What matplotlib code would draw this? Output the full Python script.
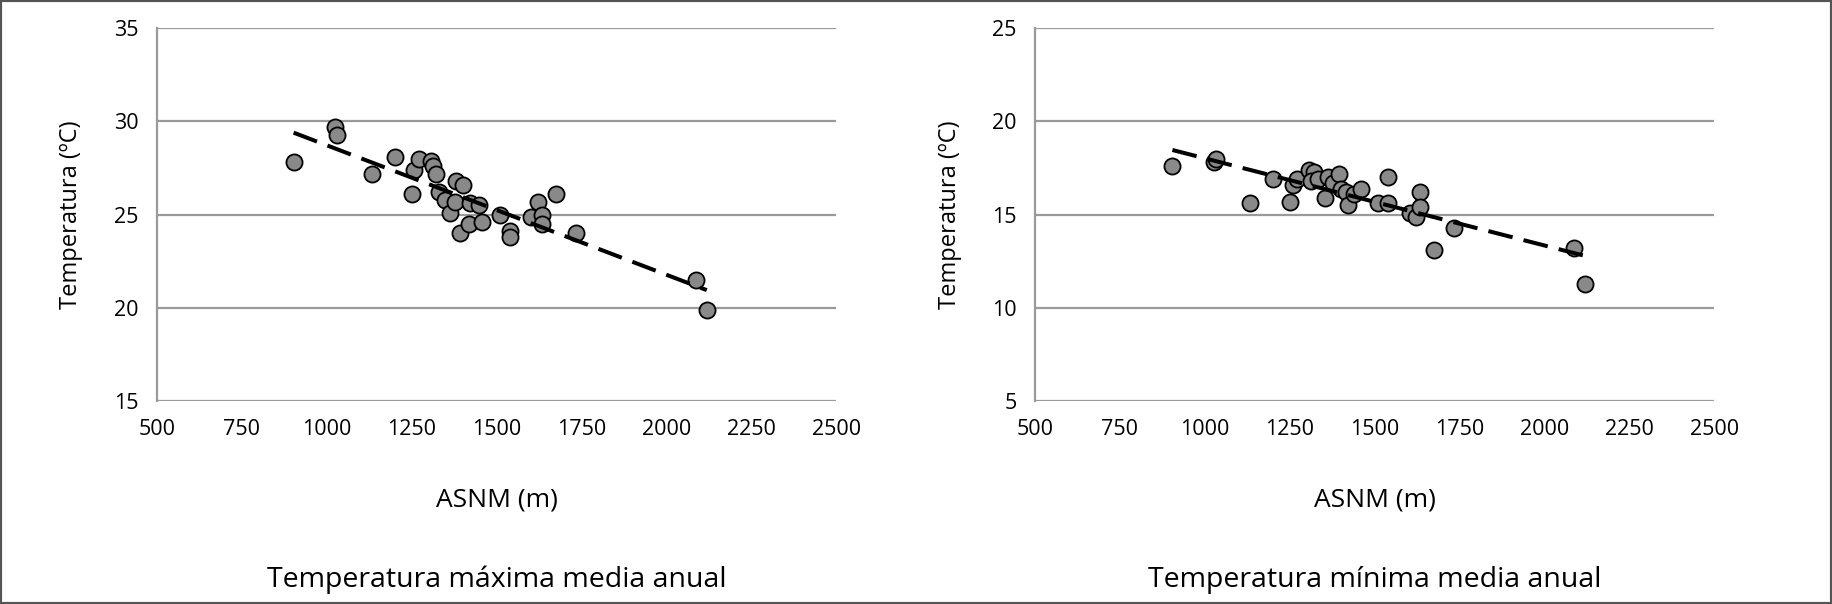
import numpy as np
import matplotlib
matplotlib.use("Agg")
import matplotlib.pyplot as plt
from matplotlib.patches import Rectangle

plt.rcParams['font.family'] = ['Open Sans', 'DejaVu Sans']

# Left panel: maximum temperature
alt_max = [903, 1025, 1031, 1134, 1201, 1250, 1258, 1272, 1307, 1312, 1321, 1332,
           1349, 1364, 1381, 1401, 1379, 1392, 1421, 1418, 1449, 1457, 1511, 1539,
           1539, 1601, 1622, 1635, 1635, 1675, 1735, 2088, 2119]
tmax = [27.8, 29.7, 29.3, 27.2, 28.1, 26.1, 27.4, 28.0, 27.9, 27.6, 27.2, 26.2,
        25.8, 25.1, 26.8, 26.6, 25.7, 24.0, 25.6, 24.5, 25.5, 24.6, 25.0, 24.1,
        23.8, 24.9, 25.7, 25.0, 24.5, 26.1, 24.0, 21.5, 19.9]

# Right panel: minimum temperature
alt_min = [905, 1026, 1032, 1133, 1202, 1250, 1259, 1273, 1307, 1322, 1312, 1333,
           1353, 1363, 1377, 1394, 1402, 1416, 1422, 1440, 1459, 1511, 1541, 1541,
           1603, 1621, 1634, 1634, 1675, 1735, 2088, 2119]
tmin = [17.6, 17.8, 18.0, 15.6, 16.9, 15.7, 16.6, 16.9, 17.4, 17.3, 16.8, 16.9,
        15.9, 17.0, 16.7, 17.2, 16.4, 16.2, 15.5, 16.1, 16.4, 15.6, 17.0, 15.6,
        15.1, 14.9, 16.2, 15.4, 13.1, 14.3, 13.2, 11.3]

# Trend lines (endpoints: altitude, temperature)
trend_max_x = [903, 2119]
trend_max_y = [29.4, 20.95]
trend_min_x = [905, 2121]
trend_min_y = [18.47, 12.78]

xticks = [500, 750, 1000, 1250, 1500, 1750, 2000, 2250, 2500]
yticks_max = [15, 20, 25, 30, 35]
yticks_min = [5, 10, 15, 20, 25]
titles = ["Temperatura máxima media anual", "Temperatura mínima media anual"]
xlabel = "ASNM (m)"
ylabel = "Temperatura (ºC)"

W, H = 1832, 604
fig = plt.figure(figsize=(W / 100, H / 100), dpi=100)

grid_c = "#9a9a9a"
face_c = "#898989"

panels = [
    (156.7, alt_max, tmax, trend_max_x, trend_max_y, yticks_max, titles[0]),
    (1034.8, alt_min, tmin, trend_min_x, trend_min_y, yticks_min, titles[1]),
]
ax_w = 679.5
ax_top, ax_bot = 28.3, 401.0
for left, xs, ys, tx, ty, yt, title in panels:
    ax = fig.add_axes([left / W, 1 - ax_bot / H, ax_w / W, (ax_bot - ax_top) / H])
    ax.set_xlim(500, 2500)
    ax.set_ylim(yt[0], yt[-1])
    ax.set_xticks(xticks)
    ax.set_yticks(yt)
    for s in ["top", "right", "bottom"]:
        ax.spines[s].set_visible(False)
    ax.spines["left"].set_color(grid_c)
    ax.spines["left"].set_linewidth(1.6)
    ax.yaxis.grid(True, color=grid_c, linewidth=1.6)
    ax.set_axisbelow(True)
    ax.tick_params(axis="both", length=0, labelsize=15.5, colors="black")
    ax.tick_params(axis="x", pad=13)
    ax.tick_params(axis="y", pad=13)
    ax.scatter(xs, ys, s=11.6 ** 2, facecolor=face_c, edgecolor="black",
               linewidth=1.3, zorder=3, clip_on=False)
    ax.plot(tx, ty, color="black", linestyle=(0, (6.2, 2.8)), linewidth=2.9,
            zorder=4)
    ax.set_xlabel(xlabel, fontsize=19, labelpad=34)
    ax.set_ylabel(ylabel, fontsize=17, labelpad=22)
    cx = (left + ax_w / 2) / W
    fig.text(cx, 1 - 580 / H, title, ha="center", va="center", fontsize=20.5)

fig.patches.append(Rectangle((0, 0), 1, 1, transform=fig.transFigure,
                             fill=False, edgecolor="#555555", linewidth=3))
fig.savefig("out.png", dpi=100)
